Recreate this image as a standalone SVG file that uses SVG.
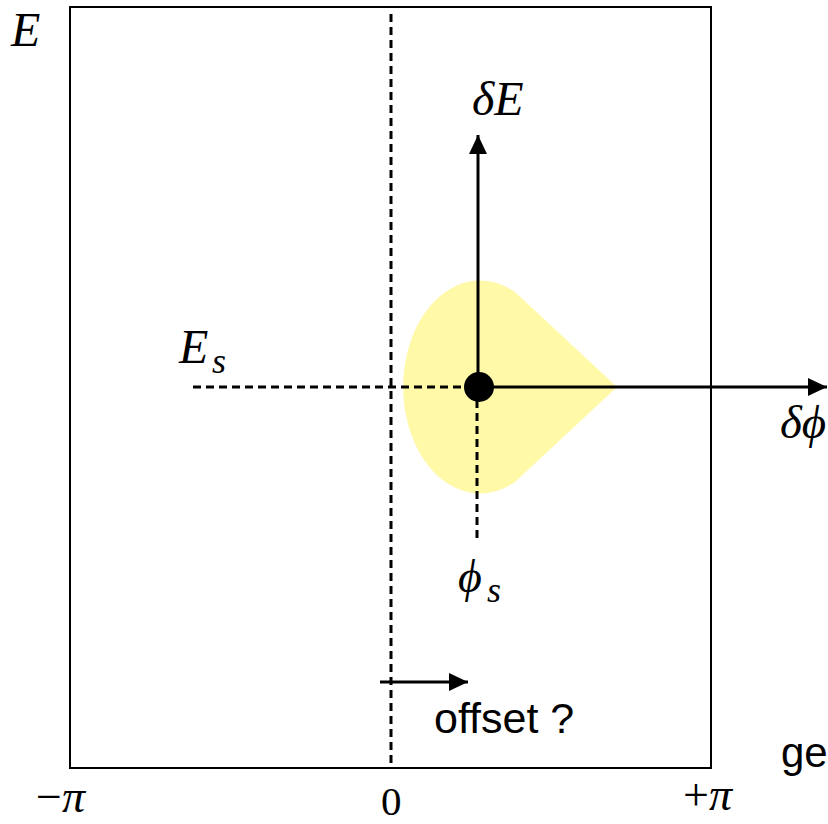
<svg xmlns="http://www.w3.org/2000/svg" width="828" height="824" viewBox="0 0 828 824">
<style>
.m{font-family:"Liberation Serif","DejaVu Serif",serif;font-style:italic;fill:#000}
.r{font-family:"Liberation Serif","DejaVu Serif",serif;fill:#000}
.s{font-family:"Liberation Sans",Arial,sans-serif;fill:#000}
.dash{stroke:#000;stroke-width:3;stroke-dasharray:8 5;fill:none}
.solid{stroke:#000;stroke-width:3;fill:none}
</style>
<defs>
<marker id="ah" markerUnits="userSpaceOnUse" markerWidth="20" markerHeight="20" viewBox="0 0 20 20" refX="19" refY="10" orient="auto">
<path d="M0,1 L19,10 L0,19 Z" fill="#000"/>
</marker>
</defs>
<rect width="828" height="824" fill="#fff"/>
<g id="frame">
<rect x="70" y="7" width="641" height="761" fill="none" stroke="#000" stroke-width="2"/>
</g>
<g id="bucket">
<path d="M617,387 L515,292 A77,106.5 0 1 0 515,482 Z" fill="#FFF9A8"/>
</g>
<g id="connectors">
<line class="dash" x1="391" y1="14" x2="391" y2="768"/>
<line class="dash" x1="193" y1="387" x2="470" y2="387"/>
<line class="dash" x1="477" y1="400" x2="477" y2="542"/>
<line class="solid" x1="478" y1="387" x2="478" y2="135" marker-end="url(#ah)"/>
<line class="solid" x1="480" y1="387" x2="827" y2="387" marker-end="url(#ah)"/>
<line class="solid" x1="380" y1="682" x2="468" y2="682" marker-end="url(#ah)"/>
</g>
<g id="origin">
<circle cx="479" cy="387" r="15" fill="#000"/>
</g>
<g id="labels">
<text class="m" x="11" y="46" font-size="48">E</text>
<text class="m" x="472" y="115" font-size="48">δE</text>
<text class="m" x="179" y="363" font-size="48">E</text>
<text class="m" x="212" y="373" font-size="36">s</text>
<text class="m" x="780" y="438" font-size="47">δϕ</text>
<text class="m" x="458" y="592" font-size="46">ϕ</text>
<text class="m" x="487" y="602" font-size="36">s</text>
<text class="s" x="434" y="733" font-size="43">offset ?</text>
<text class="s" x="781" y="767" font-size="42">ge</text>
<text class="r" x="36" y="812" font-size="46">−<tspan class="m">π</tspan></text>
<text class="r" x="381" y="815" font-size="41">0</text>
<text class="r" x="683" y="810" font-size="46">+<tspan class="m">π</tspan></text>
</g>
</svg>
